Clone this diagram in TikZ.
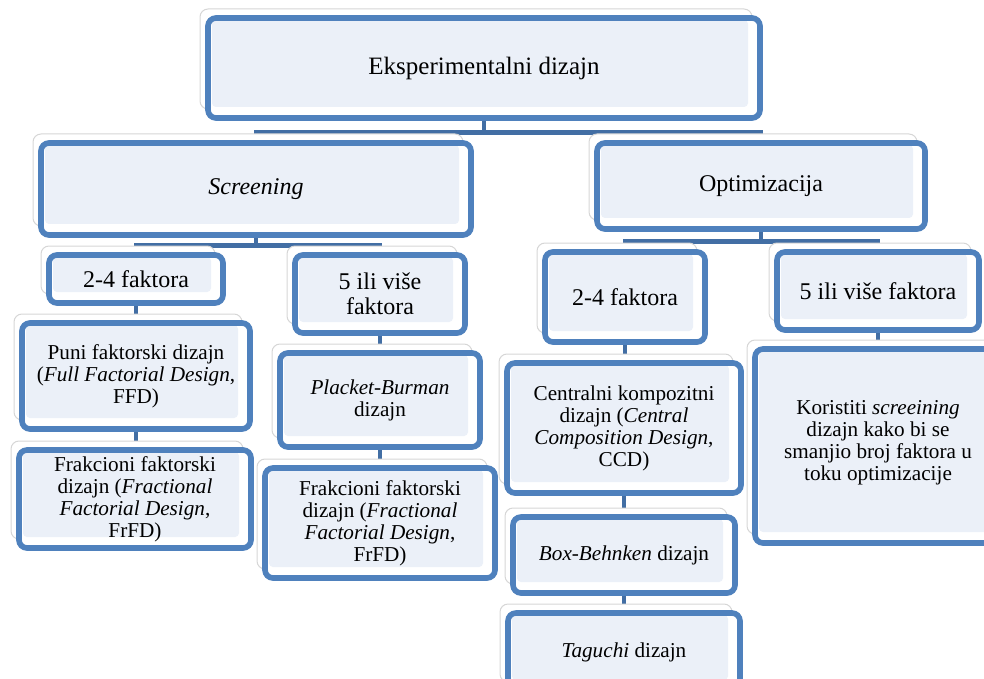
\documentclass[tikz,border=0pt]{standalone}
\usepackage{fontspec}
\setmainfont{Liberation Serif}
\usetikzlibrary{positioning, shadows, backgrounds}
\definecolor{boxblue}{RGB}{79,129,189}
\definecolor{linkblue}{RGB}{66,110,164}
\definecolor{boxfill}{RGB}{235,240,248}

\begin{document}
\begin{tikzpicture}[x=0.5pt, y=-0.5pt]
	\tikzstyle{designbox}=[rectangle, rounded corners=4pt, draw=boxblue, line width=2.8pt, fill=white, align=center, inner sep=1pt,
		general shadow={fill=white, draw=black!16, line width=0.5pt, shadow xshift=-4pt, shadow yshift=4.5pt},
		path picture={\fill[boxfill, rounded corners=2pt] ([shift={(2pt,-1pt)}]path picture bounding box.north west) rectangle ([shift={(-6pt,5.5pt)}]path picture bounding box.south east);}]
	\tikzstyle{link}=[draw=linkblue, line width=2.4pt]
	\tikzstyle{small}=[font=\fontsize{10.6}{11}\selectfont]
	\tikzstyle{big}=[font=\fontsize{12}{12.5}\selectfont]

	\useasboundingbox (0,0) rectangle (984,679);
	\clip (0,0) rectangle (984,679);

	\node[designbox, minimum width=276pt, minimum height=50pt, font=\fontsize{12.5}{14}\selectfont] (root) at (484,68) {Eksperimentalni dizajn};

	% Screening
	\node[designbox, minimum width=215pt, minimum height=46pt, big] (scr) at (256,189) {\textit{Screening}};
	\node[designbox, minimum width=87pt, minimum height=24pt, big] (s24) at (136,279) {2-4 faktora};
	\node[designbox, minimum width=85pt, minimum height=39pt, big] (s5) at (380,294) {5 ili više\\faktora};
	\node[designbox, minimum width=114pt, minimum height=53pt, small] (sffd) at (136,376) {Puni faktorski dizajn\\(\textit{Full Factorial Design},\\FFD)};
	\node[designbox, minimum width=116pt, minimum height=49pt, small] (sfrfd) at (135,499) {Frakcioni faktorski\\dizajn (\textit{Fractional}\\\textit{Factorial Design},\\FrFD)};
	\node[designbox, minimum width=100pt, minimum height=47pt, small] (spb) at (380,400) {\textit{Placket-Burman}\\dizajn};
	\node[designbox, minimum width=115pt, minimum height=55pt, small] (sfrfdb) at (380,523) {Frakcioni faktorski\\dizajn (\textit{Fractional}\\\textit{Factorial Design},\\FrFD)};

	% Optimizacija
	\node[designbox, minimum width=164pt, minimum height=43pt, big] (opt) at (761,186) {Optimizacija};
	\node[designbox, minimum width=80pt, minimum height=45pt, big] (o24) at (625,297) {2-4 faktora};
	\node[designbox, minimum width=101pt, minimum height=39pt, big] (o5) at (878,291) {5 ili više faktora};
	\node[designbox, minimum width=117pt, minimum height=65pt, small] (occd) at (624,428) {Centralni kompozitni\\dizajn (\textit{Central}\\\textit{Composition Design},\\CCD)};
	\node[designbox, minimum width=111pt, minimum height=38pt, small] (obb) at (624,555) {\textit{Box-Behnken} dizajn};
	\node[designbox, minimum width=116pt, minimum height=39pt, small] (otag) at (624,652) {\textit{Taguchi} dizajn};
	\node[designbox, minimum width=123pt, minimum height=97pt, small, text depth=6pt] (okor) at (878,446) {Koristiti \textit{screeining}\\dizajn kako bi se\\smanjio broj faktora u\\toku optimizacije};

	\begin{pgfonlayer}{background}
		\draw[link] (root.south) -- ++(0,12) -| (scr.north);
		\draw[link] (root.south) -- ++(0,12) -| (opt.north);
		\draw[link] (scr.south) -- ++(0,8) -| (s24.north);
		\draw[link] (scr.south) -- ++(0,8) -| (s5.north);
		\draw[link] (opt.south) -- ++(0,10) -| (o24.north);
		\draw[link] (opt.south) -- ++(0,10) -| (o5.north);
		\draw[link] (s24.south) -- (s24.south |- sffd.north);
		\draw[link] (sffd.south) -- (sffd.south |- sfrfd.north);
		\draw[link] (s5.south) -- (s5.south |- spb.north);
		\draw[link] (spb.south) -- (spb.south |- sfrfdb.north);
		\draw[link] (o24.south) -- (o24.south |- occd.north);
		\draw[link] (occd.south) -- (occd.south |- obb.north);
		\draw[link] (obb.south) -- (obb.south |- otag.north);
		\draw[link] (o5.south) -- (o5.south |- okor.north);
	\end{pgfonlayer}
\end{tikzpicture}
\end{document}
